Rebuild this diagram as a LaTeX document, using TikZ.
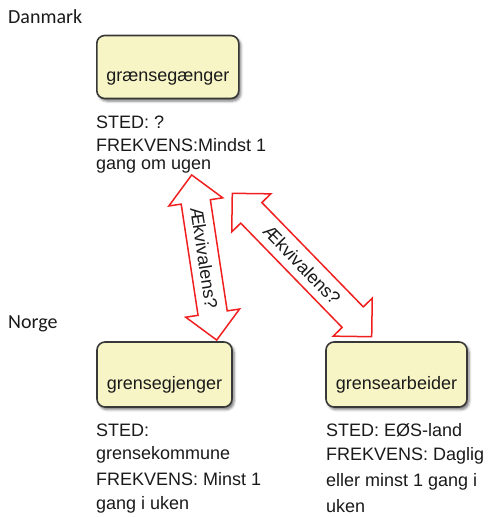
\documentclass[tikz,border=0pt]{standalone}
\usepackage{fontspec}
\setmainfont{Liberation Sans}
\newfontfamily\carl{Carlito}
\usetikzlibrary{shapes.arrows,shadows.blur}
\definecolor{boxfill}{HTML}{F7F5C6}
\definecolor{boxline}{HTML}{383838}
\definecolor{txt}{HTML}{1A1A1A}
\definecolor{arrred}{HTML}{F02020}
\tikzset{
  termbox/.style={rectangle, rounded corners=8pt, draw=boxline, line width=1.6pt,
    fill=boxfill, text=txt, font=\fontsize{18}{20}\selectfont,
    text height=32pt, text depth=3pt, inner sep=0pt,
    blur shadow={shadow xshift=2pt, shadow yshift=-2.5pt, shadow blur radius=2.5pt, shadow opacity=55}},
  infoline/.style={anchor=base west, inner sep=0pt, text=txt, font=\fontsize{18}{20}\selectfont},
  country/.style={anchor=base west, inner sep=0pt, text=txt, font=\carl\fontsize{20}{22}\selectfont},
  eqarrow/.style={double arrow, draw=arrred, line width=1.5pt, fill=white, text=txt,
    font=\fontsize{18}{20}\selectfont, text height=13pt, text depth=0pt,
    inner xsep=0pt, inner ysep=7.5pt, double arrow head extend=12.5pt}
}
\begin{document}
\begin{tikzpicture}[x=1pt,y=-1pt]
\useasboundingbox (0,0) rectangle (490,517);

\node[country] (dk) at (8,23) {Danmark};
\node[country] (no) at (8,328) {Norge};

\node[termbox, minimum width=142pt, minimum height=63pt] (dkbox) at (167.8,67) {grænsegænger};
\node[termbox, minimum width=135pt, minimum height=65pt] (nobox) at (164.5,374.5) {grensegjenger};
\node[termbox, minimum width=141pt, minimum height=65pt] (arbox) at (396.5,374.5) {grensearbeider};

\node[infoline] (dk1) at (96,128) {STED: ?};
\node[infoline] (dk2) at (96,151) {FREKVENS:Mindst 1};
\node[infoline] (dk3) at (96,169.5) {gang om ugen};

\node[infoline] (no1) at (96,436) {STED:};
\node[infoline] (no2) at (96,459) {grensekommune};
\node[infoline] (no3) at (96,485.7) {FREKVENS: Minst 1};
\node[infoline] (no4) at (96,509) {gang i uken};

\node[infoline] (ar1) at (326,436) {STED: EØS-land};
\node[infoline] (ar2) at (326,460) {FREKVENS: Daglig};
\node[infoline] (ar3) at (326,486) {eller minst 1 gang i};
\node[infoline] (ar4) at (326,512) {uken};

\node[eqarrow, minimum height=167pt, rotate=-81.38] (eq1) at (204.2,257.5) {Ækvivalens?};
\node[eqarrow, minimum height=200pt, rotate=-45.81] (eq2) at (302,265) {Ækvivalens?};
\end{tikzpicture}
\end{document}
